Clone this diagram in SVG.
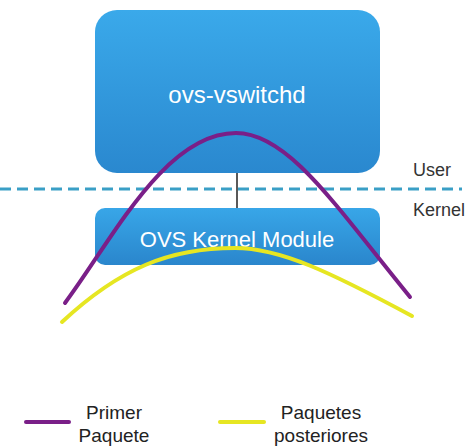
<svg xmlns="http://www.w3.org/2000/svg" width="470" height="448" viewBox="0 0 470 448">
<defs>
<linearGradient id="g1" x1="0" y1="0" x2="0" y2="1">
<stop offset="0" stop-color="#3aa9ea"/>
<stop offset="1" stop-color="#2a88cf"/>
</linearGradient>
<linearGradient id="g2" x1="0" y1="0" x2="0" y2="1">
<stop offset="0" stop-color="#38a6e8"/>
<stop offset="1" stop-color="#2a86cc"/>
</linearGradient>
<style>
.lbl{font-family:"Liberation Sans",Arial,sans-serif;fill:#ffffff;text-anchor:middle}
.side{font-family:"Liberation Sans",Arial,sans-serif;fill:#333333;font-size:18px}
.leg{font-family:"Liberation Sans",Arial,sans-serif;fill:#222222;font-size:19px;text-anchor:middle}
.purple{fill:none;stroke:#7a1f88;stroke-width:4;stroke-linecap:round}
.yellow{fill:none;stroke:#e6e622;stroke-width:4;stroke-linecap:round}
</style>
</defs>
<g id="ovs-vswitchd">
<rect x="95" y="10" width="285" height="163" rx="22" fill="url(#g1)"/>
<text class="lbl" x="237" y="103" font-size="24">ovs-vswitchd</text>
</g>
<g id="kernel-module">
<rect x="95" y="208" width="285" height="57" rx="10" fill="url(#g2)"/>
<text class="lbl" x="237" y="247" font-size="22">OVS Kernel Module</text>
</g>
<g id="boundary">
<line x1="0" y1="189" x2="462" y2="189" stroke="#3a9fc6" stroke-width="3" stroke-dasharray="11,6"/>
<text class="side" x="413" y="176">User</text>
<text class="side" x="413" y="216">Kernel</text>
</g>
<g id="connectors">
<line x1="237" y1="173" x2="237" y2="208" stroke="#222222" stroke-width="1.5"/>
<path class="purple" d="M65,303 C112,240 165,133 236,133 C288,133 335,205 410,297"/>
<path class="yellow" d="M62,322 C120,268 170,248 235,248 C280,248 330,272 412,316"/>
</g>
<g id="legend">
<line x1="26" y1="422" x2="69" y2="422" stroke="#7a1f88" stroke-width="4" stroke-linecap="round"/>
<text class="leg" x="114" y="419">Primer</text>
<text class="leg" x="114" y="442">Paquete</text>
<line x1="220" y1="422" x2="264" y2="422" stroke="#e6e622" stroke-width="4" stroke-linecap="round"/>
<text class="leg" x="321" y="419">Paquetes</text>
<text class="leg" x="321" y="442">posteriores</text>
</g>
</svg>
